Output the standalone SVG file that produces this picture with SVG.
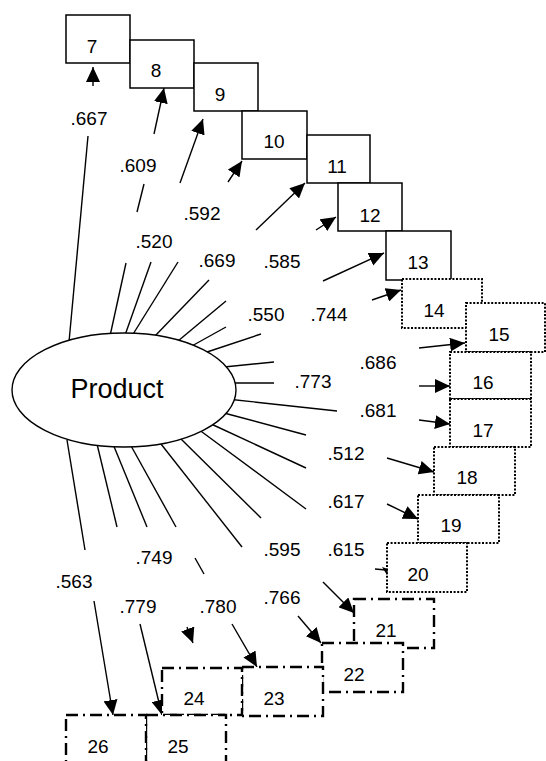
<svg xmlns="http://www.w3.org/2000/svg" width="546" height="761" viewBox="0 0 546 761">
<style>
.ln{stroke:#000;stroke-width:1.4;fill:none}
.ar{stroke:#000;stroke-width:1.4;fill:none;marker-end:url(#ah)}
.solid{fill:#fff;stroke:#000;stroke-width:1.5}
.dot{fill:#fff;stroke:#000;stroke-width:2;stroke-dasharray:2 1.6}
.dd{fill:#fff;stroke:#000;stroke-width:2.4;stroke-dasharray:12 5 2 5}
text{font-family:"Liberation Sans",Arial,sans-serif;font-size:19px;text-anchor:middle;fill:#000}
.big{font-size:27px}
</style>
<defs>
<marker id="ah" markerWidth="16" markerHeight="14" refX="15" refY="7" orient="auto" markerUnits="userSpaceOnUse"><path d="M0,0 L15,7 L0,14 z" fill="#000"/></marker>
</defs>
<rect width="546" height="761" fill="#fff"/>
<g id="connectors">
<g id="c7"><line class="ln" x1="69" y1="342" x2="88" y2="136"/><line class="ar" x1="93" y1="86" x2="93" y2="67"/></g>
<g id="c8"><line class="ln" x1="110" y1="336" x2="126" y2="263"/><line class="ln" x1="137" y1="212" x2="144" y2="184"/><line class="ar" x1="154" y1="134" x2="164" y2="88"/></g>
<g id="c9"><line class="ln" x1="124" y1="338" x2="151" y2="262"/><line class="ar" x1="180" y1="183" x2="203" y2="119"/></g>
<g id="c10"><line class="ln" x1="130" y1="339" x2="178" y2="262"/><line class="ar" x1="228" y1="182" x2="242" y2="161"/></g>
<g id="c11"><line class="ln" x1="154" y1="337" x2="209" y2="280"/><line class="ar" x1="256" y1="230" x2="305" y2="183"/></g>
<g id="c12"><line class="ln" x1="178" y1="341" x2="226" y2="301"/><line class="ar" x1="316" y1="230" x2="336" y2="217"/></g>
<g id="c13"><line class="ln" x1="190" y1="347" x2="226" y2="327"/><line class="ar" x1="323" y1="281" x2="384" y2="253"/></g>
<g id="c14"><line class="ln" x1="204" y1="353" x2="261" y2="334"/><line class="ar" x1="372" y1="300" x2="401" y2="290"/></g>
<g id="c15"><line class="ln" x1="224" y1="367" x2="274" y2="362"/><line class="ar" x1="419" y1="348" x2="465" y2="343"/></g>
<g id="c16"><line class="ln" x1="228" y1="383" x2="274" y2="383"/><line class="ar" x1="419" y1="386" x2="450" y2="386"/></g>
<g id="c17"><line class="ln" x1="227" y1="399" x2="337" y2="411"/><line class="ar" x1="419" y1="420" x2="450" y2="424"/></g>
<g id="c18"><line class="ln" x1="224" y1="413" x2="306" y2="435"/><line class="ar" x1="387" y1="458" x2="434" y2="472"/></g>
<g id="c19"><line class="ln" x1="209" y1="423" x2="306" y2="468"/><line class="ar" x1="387" y1="504" x2="418" y2="519"/></g>
<g id="c20"><line class="ln" x1="198" y1="429" x2="306" y2="509"/><line class="ln" x1="375" y1="569" x2="386" y2="570"/></g>
<g id="c21"><line class="ln" x1="180" y1="438" x2="261" y2="518"/><line class="ar" x1="323" y1="582" x2="354" y2="613"/></g>
<g id="c22"><line class="ln" x1="161" y1="444" x2="242" y2="547"/><line class="ar" x1="298" y1="616" x2="321" y2="643"/></g>
<g id="c23"><line class="ln" x1="130" y1="444" x2="176" y2="527"/><line class="ln" x1="195" y1="558" x2="204" y2="574"/><line class="ar" x1="232" y1="624" x2="257" y2="667"/></g>
<g id="c24"><line class="ln" x1="113" y1="444" x2="147" y2="527"/><line class="ar" x1="187" y1="627" x2="193" y2="643"/></g>
<g id="c25"><line class="ln" x1="97" y1="444" x2="117" y2="527"/><line class="ar" x1="140" y1="624" x2="162" y2="715"/></g>
<g id="c26"><line class="ln" x1="67" y1="440" x2="85" y2="550"/><line class="ar" x1="94" y1="601" x2="113" y2="715"/></g>
</g>
<g id="labels">
<text x="89" y="125">.667</text>
<text x="138" y="172">.609</text>
<text x="202" y="220">.592</text>
<text x="154" y="248">.520</text>
<text x="217" y="267">.669</text>
<text x="282" y="268">.585</text>
<text x="266" y="321">.550</text>
<text x="329" y="321">.744</text>
<text x="378" y="369">.686</text>
<text x="313" y="388">.773</text>
<text x="378" y="417">.681</text>
<text x="346" y="460">.512</text>
<text x="346" y="508">.617</text>
<text x="282" y="556">.595</text>
<text x="346" y="556">.615</text>
<text x="154" y="564">.749</text>
<text x="74" y="588">.563</text>
<text x="138" y="613">.779</text>
<text x="218" y="613">.780</text>
<text x="282" y="604">.766</text>
</g>
<g id="nodes">
<g id="product"><ellipse cx="124" cy="390" rx="112" ry="57" fill="#fff" stroke="#000" stroke-width="1.4"/><text class="big" x="117" y="398">Product</text></g>
<g id="n7"><rect class="solid" x="66" y="15" width="64" height="48"/><text x="92" y="53">7</text></g>
<g id="n8"><rect class="solid" x="130" y="40" width="64" height="48"/><text x="156" y="77">8</text></g>
<g id="n9"><rect class="solid" x="194" y="63" width="64" height="48"/><text x="220" y="101">9</text></g>
<g id="n10"><rect class="solid" x="242" y="111" width="65" height="48"/><text x="274" y="148">10</text></g>
<g id="n11"><rect class="solid" x="307" y="135" width="63" height="48"/><text x="337" y="173">11</text></g>
<g id="n12"><rect class="solid" x="338" y="183" width="64" height="48"/><text x="370" y="222">12</text></g>
<g id="n13"><rect class="solid" x="386" y="231" width="65" height="49"/><text x="418" y="269">13</text></g>
<g id="n14"><rect class="dot" x="402" y="279" width="80" height="49"/><text x="434" y="317">14</text></g>
<g id="n15"><rect class="dot" x="466" y="303" width="79" height="49"/><text x="499" y="341">15</text></g>
<g id="n16"><rect class="dot" x="450" y="352" width="81" height="47"/><text x="483" y="389">16</text></g>
<g id="n17"><rect class="dot" x="450" y="399" width="81" height="48"/><text x="483" y="437">17</text></g>
<g id="n18"><rect class="dot" x="434" y="447" width="81" height="48"/><text x="467" y="484">18</text></g>
<g id="n19"><rect class="dot" x="418" y="495" width="81" height="48"/><text x="451" y="532">19</text></g>
<g id="n20"><rect class="dot" x="387" y="543" width="80" height="49"/><text x="418" y="581">20</text></g>
<g id="n21"><rect class="dd" x="354" y="599" width="80" height="49"/><text x="386" y="637">21</text></g>
<g id="n22"><rect class="dd" x="322" y="643" width="81" height="49"/><text x="354" y="681">22</text></g>
<g id="n23"><rect class="dd" x="242" y="667" width="81" height="49"/><text x="274" y="705">23</text></g>
<g id="n24"><rect class="dd" x="162" y="668" width="80" height="47"/><text x="194" y="705">24</text></g>
<g id="n25"><rect class="dd" x="146" y="715" width="80" height="48"/><text x="178" y="753">25</text></g>
<g id="n26"><rect class="dd" x="66" y="715" width="80" height="48"/><text x="98" y="753">26</text></g>
</g>
<polygon points="382,567 388,569 387,575" fill="#000"/>
</svg>
